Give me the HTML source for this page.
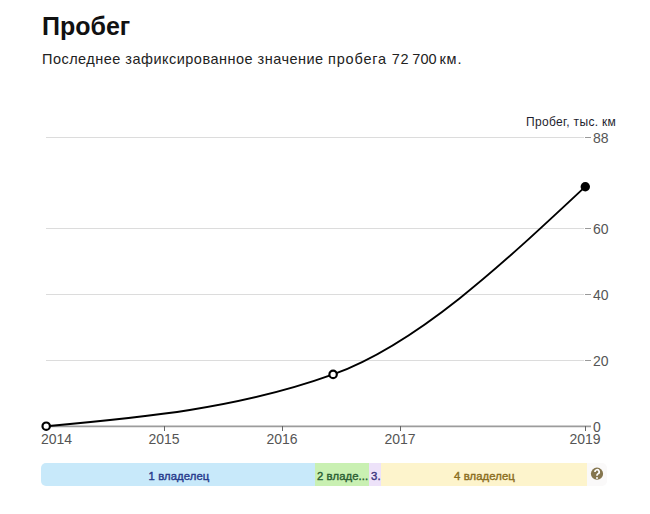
<!DOCTYPE html>
<html><head><meta charset="utf-8">
<style>
html,body{margin:0;padding:0;background:#fff;width:650px;height:514px;overflow:hidden;}
body{position:relative;font-family:"Liberation Sans",sans-serif;}
.t{position:absolute;white-space:nowrap;line-height:1;}
#title{left:42px;top:14px;font-size:25px;font-weight:bold;color:#111;}
#sub{left:42px;top:51.5px;font-size:14.5px;color:#222;letter-spacing:0.48px;}
#sub b{font-weight:normal;letter-spacing:0.8px;}
#ylab{left:526px;top:115.5px;font-size:12px;color:#1e1e2e;letter-spacing:0.33px;}
.yv{position:absolute;left:593px;margin-top:1px;font-size:14px;color:#555;line-height:1;}
.xv{position:absolute;top:432px;font-size:14px;color:#555;line-height:1;width:60px;text-align:center;}
svg{position:absolute;left:0;top:0;}
.bar{position:absolute;top:463px;height:23px;}
.bt{position:absolute;left:1px;top:6.5px;font-size:11.3px;-webkit-text-stroke:0.4px currentColor;letter-spacing:0.1px;line-height:12px;width:100%;text-align:center;white-space:nowrap;}
</style></head>
<body>
<div class="t" id="title">Пробег</div>
<div class="t" id="sub">Последнее зафиксированное значение <b>пробега 72&#8239;700&#8239;км.</b></div>
<div class="t" id="ylab">Пробег, тыс. км</div>

<svg width="650" height="514" viewBox="0 0 650 514">
  <g stroke="#dcdcdc" stroke-width="1.1">
    <line x1="46" y1="137.5" x2="584" y2="137.5"/>
    <line x1="46" y1="228.5" x2="584" y2="228.5"/>
    <line x1="46" y1="294.5" x2="584" y2="294.5"/>
    <line x1="46" y1="360.5" x2="584" y2="360.5"/>
  </g>
  <g stroke="#999" stroke-width="1">
    <line x1="585" y1="137.5" x2="591" y2="137.5"/>
    <line x1="585" y1="228.5" x2="591" y2="228.5"/>
    <line x1="585" y1="294.5" x2="591" y2="294.5"/>
    <line x1="585" y1="360.5" x2="591" y2="360.5"/>
  </g>
  <line x1="46" y1="426.3" x2="591" y2="426.3" stroke="#9c9c9c" stroke-width="1.8"/>
  <g stroke="#666" stroke-width="1">
    <line x1="164.5" y1="426" x2="164.5" y2="431"/>
    <line x1="282.5" y1="426" x2="282.5" y2="431"/>
    <line x1="400.5" y1="426" x2="400.5" y2="431"/>
    <line x1="585.5" y1="426" x2="585.5" y2="431"/>
  </g>
  <path d="M46.2,426.2 C141.83,417.56 237.47,408.94 333.1,374.4 C417.17,344.03 501.23,265.33 585.3,186.6" fill="none" stroke="#000" stroke-width="1.9"/>
  <circle cx="46.2" cy="426.2" r="3.7" fill="#fff" stroke="#000" stroke-width="2.2"/>
  <circle cx="333.1" cy="374.4" r="3.7" fill="#fff" stroke="#000" stroke-width="2.2"/>
  <circle cx="585.3" cy="186.8" r="4.7" fill="#000"/>
</svg>

<div class="yv" style="top:130px">88</div>
<div class="yv" style="top:221px">60</div>
<div class="yv" style="top:287px">40</div>
<div class="yv" style="top:353px">20</div>
<div class="yv" style="top:419px">0</div>

<div class="xv" style="left:41px;text-align:left">2014</div>
<div class="xv" style="left:134px">2015</div>
<div class="xv" style="left:252px">2016</div>
<div class="xv" style="left:370px">2017</div>
<div class="xv" style="left:555px">2019</div>

<div class="bar" style="left:41px;width:274px;background:#c8e9fa;border-radius:5px 0 0 5px;"><div class="bt" style="color:#273a8c">1 владелец</div></div>
<div class="bar" style="left:315px;width:54px;background:#c9f0b2;"><div class="bt" style="color:#2a5e32;text-align:left;left:2px">2 владе...</div></div>
<div class="bar" style="left:369px;width:11.5px;background:#ede2f9;"><div class="bt" style="color:#3b3680;text-align:left;left:2px">3.</div></div>
<div class="bar" style="left:380.5px;width:206px;background:#fdf4cc;"><div class="bt" style="color:#8a6d20">4 владелец</div></div>
<div class="bar" style="left:586.5px;width:20px;background:#faf9f9;border-radius:0 5px 5px 0;"></div>
<svg width="650" height="514" viewBox="0 0 650 514" style="position:absolute;left:0;top:0">
  <circle cx="597" cy="473.7" r="6.1" fill="#85764f"/>
  <path d="M594.9,471.9 a2.15,2.15 0 1 1 3.1,1.9 c-0.7,0.35 -1,0.8 -1,1.5 v0.5" fill="none" stroke="#fff" stroke-width="1.7" stroke-linecap="butt"/>
  <circle cx="597" cy="477.9" r="1" fill="#fff"/>
</svg>
</body></html>
